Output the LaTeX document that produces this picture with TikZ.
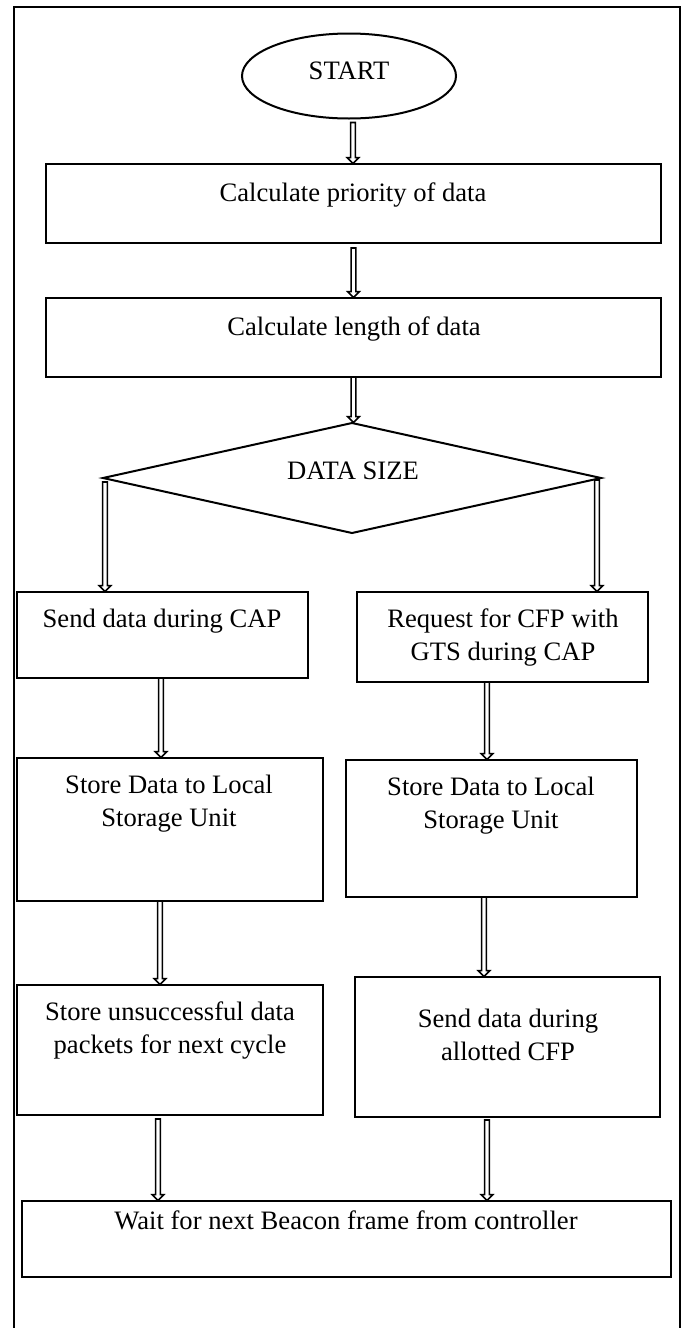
\documentclass[tikz,border=0pt]{standalone}
\usepackage{fontspec}
\setmainfont{Liberation Serif}
\usetikzlibrary{shapes.geometric,calc}

\tikzset{
  box/.style={draw, line width=1pt, inner sep=0pt, outer sep=0pt},
  txt/.style={inner sep=0pt, outer sep=0pt, align=center, anchor=north,
              font=\fontsize{13.3pt}{16.5pt}\selectfont},
  flowline/.style={draw, fill=white, line width=0.8pt, line join=miter},
  frame/.style={draw, line width=1pt}
}

% hollow block arrow running straight down from #1 to the level of #2
\newcommand\flowarrow[2]{%
  \path[flowline] let \p1=(#1), \p2=(#2) in
    (\x1-1.2pt,\y1) -- (\x1-1.2pt,\y2+3.2pt) -- (\x1-2.9pt,\y2+3.2pt) -- (\x1,\y2+0.3pt)
    -- (\x1+2.9pt,\y2+3.2pt) -- (\x1+1.2pt,\y2+3.2pt) -- (\x1+1.2pt,\y1) -- cycle;}

\begin{document}
\begin{tikzpicture}[x=0.5pt,y=-0.5pt]
\useasboundingbox (0,0) rectangle (683,1328);
\clip (0,0) rectangle (683,1328);

% outer frame (open at the bottom edge of the page)
\draw[frame] (14,7) rectangle (680,1345);

% shapes
\node[box, ellipse, minimum width=107pt, minimum height=42.5pt] (start) at (349,76) {};
\node[box, minimum width=307.5pt, minimum height=39.5pt] (prio) at (353.5,203.5) {};
\node[box, minimum width=307.5pt, minimum height=39.5pt] (len) at (353.5,337.5) {};
\node[box, diamond, minimum width=249pt, minimum height=55pt] (size) at (352,478) {};
\node[box, minimum width=145.5pt, minimum height=43pt] (capL) at (162.5,635) {};
\node[box, minimum width=145.5pt, minimum height=45pt] (cfpR) at (502.5,637) {};
\node[box, minimum width=153pt, minimum height=71.5pt] (storeL) at (170,829.5) {};
\node[box, minimum width=145.5pt, minimum height=68.5pt] (storeR) at (491.5,828.5) {};
\node[box, minimum width=153pt, minimum height=65pt] (keepL) at (170,1050) {};
\node[box, minimum width=152.5pt, minimum height=70pt] (sendR) at (507.5,1047) {};
\node[box, minimum width=324.5pt, minimum height=38pt] (wait) at (346.5,1239) {};

% texts
\node[txt] (startT) at (349,62) {START};
\node[txt] (prioT) at (353,183) {Calculate priority of data};
\node[txt] (lenT) at (354,317) {Calculate length of data};
\node[txt] (sizeT) at (353,462) {DATA SIZE};
\node[txt] (capLT) at (162,609) {Send data during CAP};
\node[txt] (cfpRT) at (503,609) {Request for CFP with\\GTS during CAP};
\node[txt] (storeLT) at (169,775) {Store Data to Local\\Storage Unit};
\node[txt] (storeRT) at (491,777) {Store Data to Local\\Storage Unit};
\node[txt] (keepLT) at (170,1002) {Store unsuccessful data\\packets for next cycle};
\node[txt] (sendRT) at (508,1009) {Send data during\\allotted CFP};
\node[txt] (waitT) at (346,1211) {Wait for next Beacon frame from controller};

% connectors
\flowarrow{[xshift=2pt,yshift=-2pt]start.south}{prio.north}
\flowarrow{[yshift=-2.5pt]prio.south}{len.north}
\flowarrow{len.south}{size.north}
\flowarrow{[xshift=1pt,yshift=-2pt]size.west}{capL.north}
\flowarrow{[xshift=-2pt,yshift=-1pt]size.east}{cfpR.north}
\flowarrow{[xshift=-0.75pt]capL.south}{storeL.north}
\flowarrow{[xshift=-7.75pt]cfpR.south}{storeR.north}
\flowarrow{[xshift=-5pt]storeL.south}{keepL.north}
\flowarrow{[xshift=-3.75pt]storeR.south}{sendR.north}
\flowarrow{[xshift=-6pt,yshift=-2pt]keepL.south}{wait.north}
\flowarrow{[xshift=-10.25pt,yshift=-1.5pt]sendR.south}{wait.north}
\end{tikzpicture}
\end{document}
